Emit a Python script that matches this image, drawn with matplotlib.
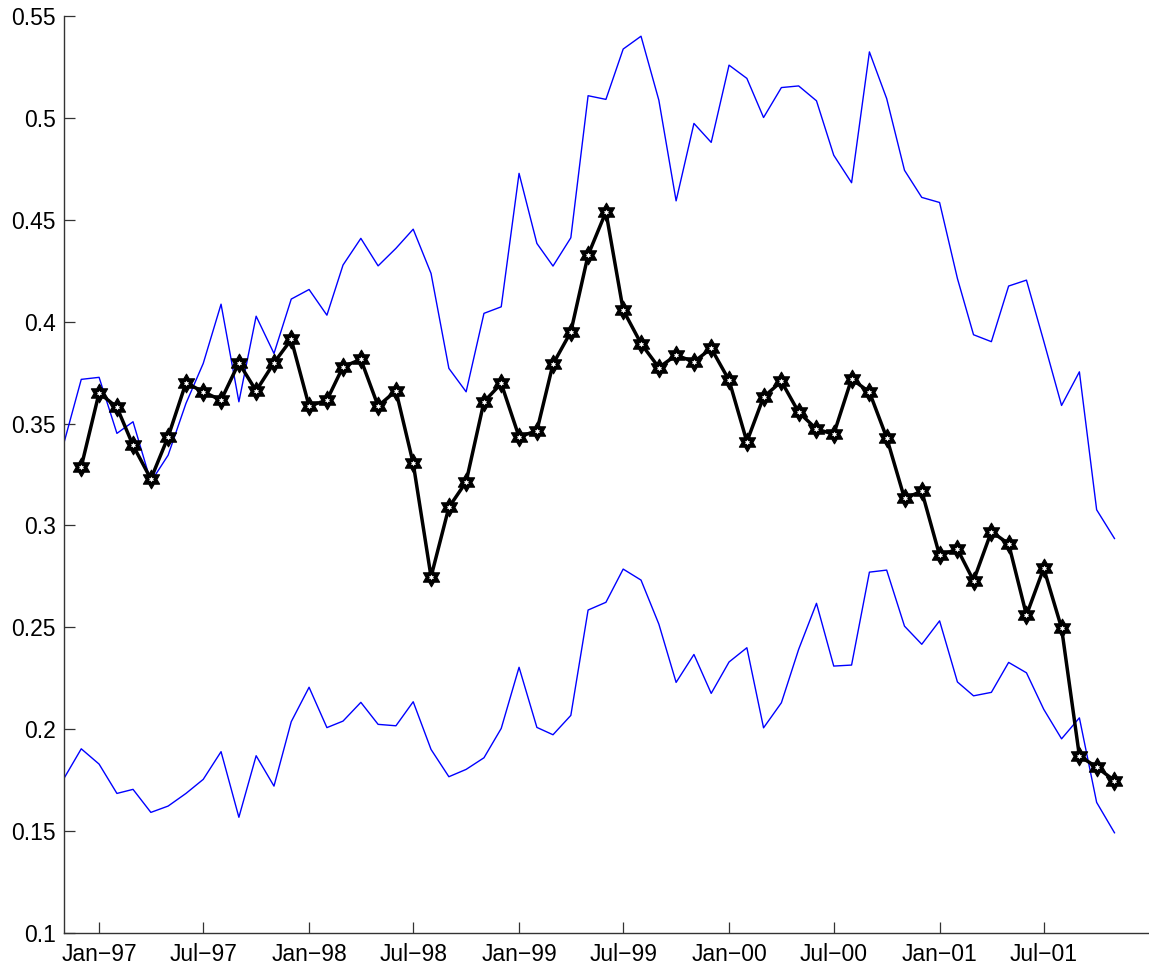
import numpy as np
import pandas as pd
import matplotlib
matplotlib.use("Agg")
import matplotlib.pyplot as plt
import matplotlib.dates as mdates
from matplotlib.path import Path
from matplotlib.markers import MarkerStyle

# monthly series, Nov-96 .. Nov-01
months = pd.date_range("1996-11-01", periods=61, freq="MS")

upper = [0.3406, 0.3717, 0.3727, 0.3452, 0.3509, 0.3214, 0.3345, 0.3599, 0.3795, 0.4086,
         0.3607, 0.4027, 0.3844, 0.4111, 0.4158, 0.4032, 0.4278, 0.4409, 0.4274, 0.4360,
         0.4454, 0.4237, 0.3771, 0.3656, 0.4041, 0.4073, 0.4728, 0.4384, 0.4273, 0.4412,
         0.5109, 0.5091, 0.5338, 0.5401, 0.5087, 0.4593, 0.4973, 0.4880, 0.5259, 0.5194,
         0.5002, 0.5149, 0.5157, 0.5084, 0.4817, 0.4682, 0.5324, 0.5095, 0.4743, 0.4610,
         0.4585, 0.4212, 0.3936, 0.3902, 0.4175, 0.4204, 0.3905, 0.3589, 0.3754, 0.3077,
         0.2936]

lower = [0.1759, 0.1904, 0.1829, 0.1685, 0.1705, 0.1592, 0.1623, 0.1685, 0.1754, 0.1890,
         0.1568, 0.1870, 0.1721, 0.2037, 0.2206, 0.2008, 0.2040, 0.2132, 0.2024, 0.2017,
         0.2135, 0.1901, 0.1767, 0.1803, 0.1860, 0.2004, 0.2304, 0.2009, 0.1973, 0.2068,
         0.2585, 0.2623, 0.2786, 0.2732, 0.2516, 0.2230, 0.2367, 0.2176, 0.2330, 0.2400,
         0.2007, 0.2130, 0.2392, 0.2618, 0.2310, 0.2315, 0.2771, 0.2781, 0.2506, 0.2417,
         0.2532, 0.2232, 0.2164, 0.2181, 0.2328, 0.2277, 0.2098, 0.1953, 0.2056, 0.1641,
         0.1492]

# point estimate starts one month later (Dec-96)
estimate = [0.3288, 0.3651, 0.3580, 0.3393, 0.3228, 0.3435, 0.3700, 0.3656, 0.3615, 0.3798,
            0.3661, 0.3798, 0.3913, 0.3586, 0.3615, 0.3779, 0.3815, 0.3586, 0.3661, 0.3305,
            0.2748, 0.3089, 0.3214, 0.3607, 0.3697, 0.3435, 0.3465, 0.3792, 0.3950, 0.4327,
            0.4539, 0.4057, 0.3893, 0.3775, 0.3836, 0.3803, 0.3869, 0.3713, 0.3411, 0.3630,
            0.3707, 0.3556, 0.3473, 0.3448, 0.3719, 0.3655, 0.3431, 0.3133, 0.3168, 0.2853,
            0.2884, 0.2729, 0.2970, 0.2910, 0.2560, 0.2790, 0.2497, 0.1869, 0.1814, 0.1748]

yticks = [0.1, 0.15, 0.2, 0.25, 0.3, 0.35, 0.4, 0.45, 0.5, 0.55]

# six-pointed star (hexagram) marker, point up, sharp tips
ang = np.pi / 2 + np.arange(12) * np.pi / 6
rad = np.where(np.arange(12) % 2 == 0, 1.0, 1 / np.sqrt(3))
verts = np.column_stack([rad * np.cos(ang), rad * np.sin(ang)])
verts = np.vstack([verts, verts[:1]])
codes = [Path.MOVETO] + [Path.LINETO] * 11 + [Path.CLOSEPOLY]
hexagram = MarkerStyle(Path(verts, codes), joinstyle="miter")

plt.rcParams["font.family"] = ["Liberation Sans", "DejaVu Sans"]

fig = plt.figure(figsize=(11.49, 9.72), dpi=100)
ax = fig.add_axes([0.0557, 0.0401, 0.9443, 0.9434])

ax.plot(months, upper, color="blue", lw=1.0)
ax.plot(months, lower, color="blue", lw=1.0)
# heavy black star with a small white star in its centre
ax.plot(months[1:], estimate, color="black", lw=2.5, marker=hexagram,
        markersize=13.5, markerfacecolor="black", markeredgecolor="black",
        markeredgewidth=0.8)
ax.plot(months[1:], estimate, linestyle="none", marker=hexagram,
        markersize=3.6, markerfacecolor="white", markeredgecolor="white",
        markeredgewidth=0.2)

ax.set_xlim(pd.Timestamp("1996-11-01"), pd.Timestamp("2001-12-31"))
ax.set_ylim(0.1, 0.55)
ax.set_yticks(yticks)
ax.yaxis.set_major_formatter(plt.FuncFormatter(lambda v, p: "%g" % v))

ax.xaxis.set_major_locator(mdates.MonthLocator(bymonth=[1, 7]))
ax.xaxis.set_major_formatter(
    plt.FuncFormatter(lambda v, p: mdates.num2date(v).strftime("%b-%y").replace("-", "\u2212")))

for side in ["top", "right"]:
    ax.spines[side].set_visible(False)
for side in ["left", "bottom"]:
    ax.spines[side].set_color("0.2")
    ax.spines[side].set_linewidth(1.0)

ax.tick_params(direction="in", length=8, width=0.9, color="0.2",
               labelsize=16.5, labelcolor="black")
ax.tick_params(axis="x", pad=7)
ax.tick_params(axis="y", pad=6)

fig.savefig("out.png", dpi=100)
